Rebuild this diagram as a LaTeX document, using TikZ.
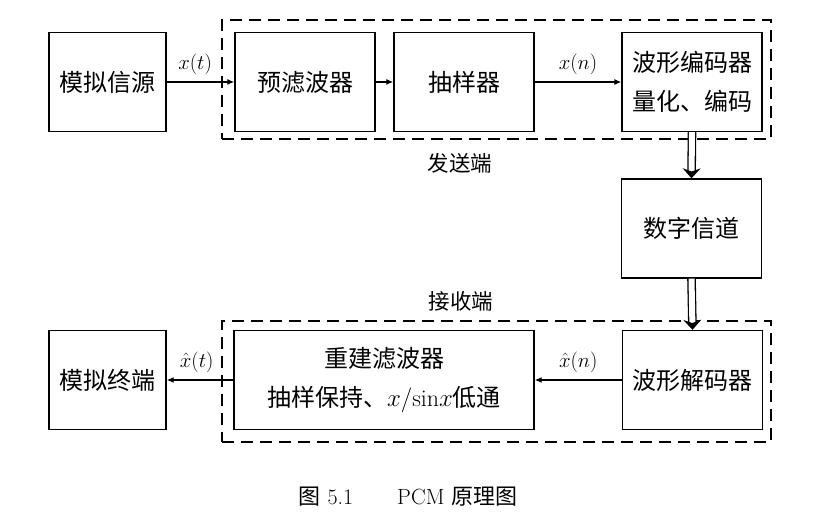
\documentclass[tikz,border=0pt]{standalone}
\usepackage{fontspec}
\newfontfamily\cjk{Noto Sans CJK SC}
\usepackage{amsmath}
\usepackage{tikz}
\usetikzlibrary{arrows.meta,positioning}
\tikzset{
  pcmbox/.style={
    draw=black, line width=1.4pt,
    align=center, font=\cjk\fontsize{24}{39}\selectfont,
    minimum width=140pt, minimum height=99pt, inner sep=2pt},
  pcmbox_narrow/.style={
    pcmbox, minimum width=117pt},
  pcmbox_wide/.style={
    pcmbox, minimum width=300pt},
  pcmframe/.style={
    draw=black, line width=1.3pt, dash pattern=on 12pt off 7pt,
    minimum width=549pt, inner sep=0pt},
  sigarrow/.style={
    -{Latex[length=7pt,width=6pt]}, line width=1.2pt},
  busarrow/.style={
    double, double distance=6pt, line width=1.3pt,
    -{Stealth[length=10pt,width=18pt]}},
  siglabel/.style={font=\fontsize{21}{24}\selectfont, above=3pt},
  sidelabel/.style={font=\cjk\fontsize{21.5}{24}\selectfont},
}

\begin{document}
\begin{tikzpicture}[x=1pt, y=1pt]
  \useasboundingbox (0,0) rectangle (816,525);
  % sending side
  \node[pcmframe, minimum height=119pt] (txframe) at (496.5,445.5) {};
  \node[pcmbox_narrow] (src) at (107.5,443) {模拟信源};
  \node[pcmbox]        (pre) at (305,443)   {预滤波器};
  \node[pcmbox]        (smp) at (464,443)   {抽样器};
  \node[pcmbox]        (enc) at (692,443)   {波形编码器\\量化、编码};
  \node[sidelabel]     (txlabel) at (460,362) {发送端};
  % channel
  \node[pcmbox]        (chan) at (691.5,296.5) {数字信道};
  % receiving side
  \node[pcmframe, minimum height=121pt] (rxframe) at (496.5,143.5) {};
  \node[sidelabel]     (rxlabel) at (461,224) {接收端};
  \node[pcmbox]        (dec) at (692.5,145)  {波形解码器};
  \node[pcmbox_wide]   (rec) at (384,145)    {重建滤波器\\抽样保持、$x/\mathrm{sin}x$低通};
  \node[pcmbox_narrow] (sink) at (107.5,145) {模拟终端};

  \draw[sigarrow] (src) -- node[siglabel, pos=0.42] (lxt) {$x(t)$} (pre);
  \draw[sigarrow] (pre) -- (smp);
  \draw[sigarrow] (smp) -- node[siglabel] (lxn) {$x(n)$} (enc);
  \draw[busarrow] (enc.south) -- (chan.north);
  \draw[busarrow] (chan.south) -- (dec.north);
  \draw[sigarrow] (dec) -- node[siglabel] (lyn) {$\hat{x}(n)$} (rec);
  \draw[sigarrow] (rec) -- node[siglabel, pos=0.55] (lyt) {$\hat{x}(t)$} (sink);

  \node[font=\fontsize{22}{26}\selectfont] (caption) at (408,28)
    {{\cjk 图} 5.1\hspace{2em}PCM {\cjk 原理图}};
\end{tikzpicture}
\end{document}
